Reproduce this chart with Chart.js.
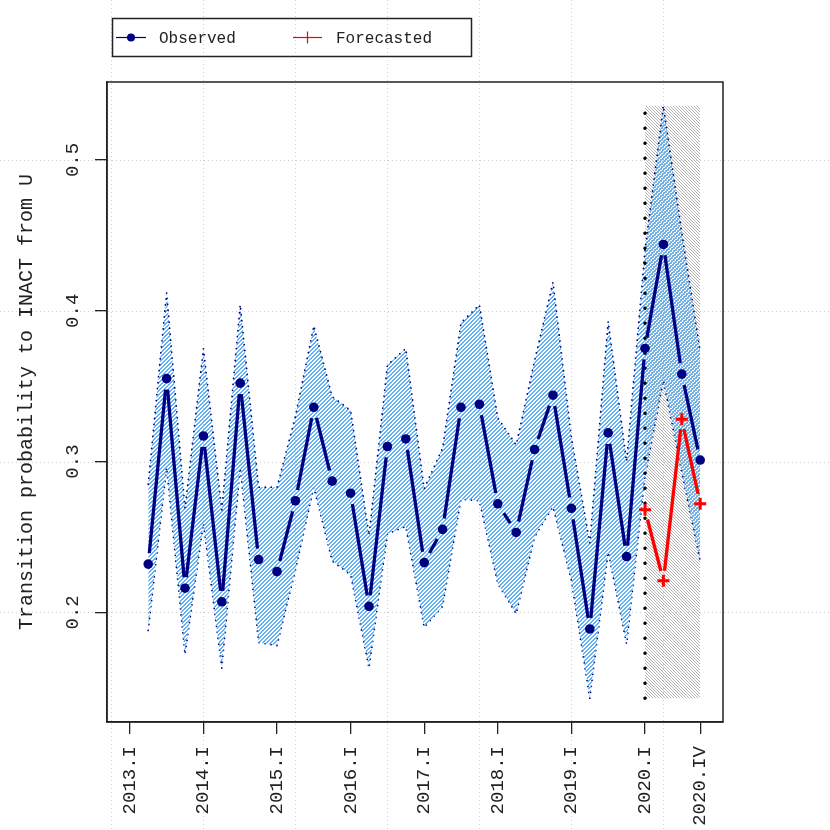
<!DOCTYPE html>
<html>
<head>
<meta charset="utf-8">
<script src="https://cdn.jsdelivr.net/npm/chart.js@4"></script>
<style>
  body { margin: 0; background: #fff; }
  canvas { display: block; }
</style>
</head>
<body>
<canvas id="chart" width="830" height="830"></canvas>
<script>
/* DATA (quarter index: 1 = 2013.I) */
const quarters = [2, 3, 4, 5, 6, 7, 8, 9, 10, 11, 12, 13, 14, 15, 16, 17,
                  18, 19, 20, 21, 22, 23, 24, 25, 26, 27, 28, 29, 30, 31, 32];
const observed = [0.232, 0.355, 0.216, 0.317, 0.207, 0.352, 0.235, 0.227, 0.274, 0.336, 0.287,
                  0.279, 0.204, 0.310, 0.315, 0.233, 0.255, 0.336, 0.338, 0.272, 0.253, 0.308,
                  0.344, 0.269, 0.189, 0.319, 0.237, 0.375, 0.444, 0.358, 0.301];
const upper = [0.285, 0.412, 0.269, 0.375, 0.268, 0.404, 0.283, 0.283, 0.330, 0.390, 0.343,
               0.334, 0.251, 0.364, 0.375, 0.282, 0.309, 0.392, 0.404, 0.329, 0.311, 0.367,
               0.419, 0.316, 0.246, 0.393, 0.300, 0.440, 0.536, 0.452, 0.373];
const lower = [0.188, 0.296, 0.172, 0.259, 0.163, 0.296, 0.180, 0.178, 0.228, 0.283, 0.234,
               0.225, 0.163, 0.252, 0.257, 0.190, 0.204, 0.275, 0.274, 0.219, 0.199, 0.250,
               0.270, 0.221, 0.143, 0.240, 0.179, 0.290, 0.354, 0.293, 0.234];
const fcQuarters = [29, 30, 31, 32];
const forecast = [0.268, 0.221, 0.328, 0.272];

const tickQuarters = [1, 5, 9, 13, 17, 21, 25, 29, 32];
const tickLabels = ["2013.I", "2014.I", "2015.I", "2016.I", "2017.I", "2018.I", "2019.I", "2020.I", "2020.IV"];
const yTicks = [0.2, 0.3, 0.4, 0.5];
const xGrid = [0, 5, 10, 15, 20, 25, 30];

const yTitle = "Transition probability to INACT from U";
const legendNames = ["Observed", "Forecasted"];

/* DERIVED */
const shadeTop = Math.max(...upper);
const shadeBottom = Math.min(...lower);
const yMin = shadeBottom - 0.04 * (shadeTop - shadeBottom);
const yMax = shadeTop + 0.04 * (shadeTop - shadeBottom);
const xMin = 1 - 0.04 * 31;
const xMax = 32 + 0.04 * 31;

const NAVY = "#000080";
const RED = "#ff0000";
const MONO = "'Liberation Mono', 'DejaVu Sans Mono', monospace";

const ctx = document.getElementById("chart").getContext("2d");

/* HATCH PATTERNS (crisp pixel stripes) */
function hatch(color, size, width, slash) {
    let c = document.createElement("canvas");
    c.width = size; c.height = size;
    let g = c.getContext("2d");
    g.fillStyle = color;
    for (let x = 0; x < size; x++) {
        for (let y = 0; y < size; y++) {
            let k = slash ? (x + y) % size : ((x - y) % size + size) % size;
            if (k < width) g.fillRect(x, y, 1, 1);
        }
    }
    return ctx.createPattern(c, "repeat");
}
const bluePattern = hatch("#63b3f2", 4, 2, true);
const grayPattern = hatch("#b4b4b4", 3, 1, false);

const pts = (xs, ys) => xs.map((x, i) => ({ x: x, y: ys[i] }));

/* PLUGINS */
const backGrid = {
    id: "backGrid",
    beforeDraw(chart) {
        let c = chart.ctx, x = chart.scales.x, y = chart.scales.y;
        c.save();
        c.strokeStyle = "#cfcfcf";
        c.lineWidth = 1;
        c.setLineDash([1, 3]);
        xGrid.forEach(v => {
            let px = Math.round(x.getPixelForValue(v)) + 0.5;
            c.beginPath(); c.moveTo(px, 0); c.lineTo(px, chart.height); c.stroke();
        });
        yTicks.forEach(v => {
            let py = Math.round(y.getPixelForValue(v)) + 0.5;
            c.beginPath(); c.moveTo(0, py); c.lineTo(chart.width, py); c.stroke();
        });
        c.restore();
    }
};

const gapLines = {
    id: "gapLines",
    afterDatasetsDraw(chart) {
        let c = chart.ctx;
        chart.data.datasets.forEach((ds, i) => {
            if (!ds.gapLine) return;
            let p = chart.getDatasetMeta(i).data;
            c.save();
            c.strokeStyle = ds.gapLine.color;
            c.lineWidth = ds.gapLine.width;
            for (let k = 0; k < p.length - 1; k++) {
                let dx = p[k + 1].x - p[k].x, dy = p[k + 1].y - p[k].y;
                let len = Math.hypot(dx, dy), g = ds.gapLine.gap;
                if (len <= 2 * g) continue;
                let ux = dx / len, uy = dy / len;
                c.beginPath();
                c.moveTo(p[k].x + ux * g, p[k].y + uy * g);
                c.lineTo(p[k + 1].x - ux * g, p[k + 1].y - uy * g);
                c.stroke();
            }
            c.restore();
        });
    }
};

const frame = {
    id: "frame",
    afterDraw(chart) {
        let c = chart.ctx, a = chart.chartArea, y = chart.scales.y;
        c.save();
        // plot box
        c.strokeStyle = "#222";
        c.lineWidth = 1.5;
        c.strokeRect(a.left, a.top, a.right - a.left, a.bottom - a.top);

        // y tick labels, rotated like R
        c.fillStyle = "#222";
        c.font = "19px " + MONO;
        c.textAlign = "center";
        c.textBaseline = "middle";
        yTicks.forEach(v => {
            c.save();
            c.translate(73, y.getPixelForValue(v));
            c.rotate(-Math.PI / 2);
            c.fillText(v.toFixed(1), 0, 0);
            c.restore();
        });

        // legend
        c.lineWidth = 1.5;
        c.strokeRect(112.5, 18.5, 359, 38);
        let ly = 37.5;
        c.lineWidth = 1.2;
        c.strokeStyle = NAVY;
        c.beginPath(); c.moveTo(116, ly); c.lineTo(146, ly); c.stroke();
        c.fillStyle = NAVY;
        c.beginPath(); c.arc(131, ly, 4, 0, Math.PI * 2); c.fill();
        c.strokeStyle = RED;
        c.beginPath(); c.moveTo(293, ly); c.lineTo(322, ly); c.stroke();
        c.beginPath(); c.moveTo(307.5, ly - 6); c.lineTo(307.5, ly + 6); c.stroke();
        c.fillStyle = "#222";
        c.font = "16px " + MONO;
        c.textAlign = "left";
        c.fillText(legendNames[0], 159, ly + 1);
        c.fillText(legendNames[1], 336, ly + 1);
        c.restore();
    }
};

/* CHART */
let chart = new Chart(ctx, {
    type: "line",
    data: {
        datasets: [
            {
                label: legendNames[1],
                data: pts(fcQuarters, forecast),
                showLine: false,
                pointStyle: "cross",
                pointRadius: 6,
                pointBorderWidth: 3,
                pointBorderColor: RED,
                pointBackgroundColor: RED,
                gapLine: { color: RED, width: 3.3, gap: 10 },
                order: 0
            },
            {
                label: legendNames[0],
                data: pts(quarters, observed),
                showLine: false,
                pointRadius: 4.8,
                pointBorderWidth: 0,
                pointBackgroundColor: NAVY,
                gapLine: { color: NAVY, width: 3.3, gap: 11 },
                order: 1
            },
            {
                label: "start",
                data: [{ x: fcQuarters[0], y: shadeBottom }, { x: fcQuarters[0], y: shadeTop }],
                borderColor: "#000",
                borderWidth: 3.5,
                borderDash: [0, 15],
                borderCapStyle: "round",
                pointRadius: 0,
                order: 2
            },
            {
                label: "upper",
                data: pts(quarters, upper),
                borderColor: NAVY,
                borderWidth: 1.8,
                borderDash: [0, 6],
                borderCapStyle: "round",
                backgroundColor: bluePattern,
                fill: "+1",
                pointRadius: 0,
                order: 3
            },
            {
                label: "lower",
                data: pts(quarters, lower),
                borderColor: NAVY,
                borderWidth: 1.8,
                borderDash: [0, 6],
                borderCapStyle: "round",
                pointRadius: 0,
                order: 3
            },
            {
                label: "shade",
                data: [{ x: fcQuarters[0], y: shadeTop }, { x: fcQuarters[3], y: shadeTop }],
                borderWidth: 0,
                backgroundColor: grayPattern,
                fill: { value: shadeBottom },
                pointRadius: 0,
                order: 5
            }
        ]
    },
    options: {
        responsive: false,
        animation: false,
        devicePixelRatio: 1,
        layout: { padding: { top: 82, right: 107, left: 0, bottom: 0 } },
        plugins: {
            legend: { display: false },
            tooltip: { enabled: false }
        },
        scales: {
            x: {
                type: "linear",
                min: xMin,
                max: xMax,
                afterBuildTicks: s => { s.ticks = tickQuarters.map(v => ({ value: v })); },
                afterFit: s => { s.height = 108; },
                ticks: {
                    autoSkip: false,
                    minRotation: 90,
                    maxRotation: 90,
                    padding: 12,
                    color: "#222",
                    font: { family: MONO, size: 19 },
                    callback: v => tickLabels[tickQuarters.indexOf(v)]
                },
                grid: { drawOnChartArea: false, tickLength: 12, color: "#222", lineWidth: 1.3 },
                border: { color: "#222", width: 1.5 }
            },
            y: {
                min: yMin,
                max: yMax,
                afterBuildTicks: s => { s.ticks = yTicks.map(v => ({ value: v })); },
                afterFit: s => { s.width = 107; },
                ticks: { display: false },
                title: {
                    display: true,
                    text: yTitle,
                    color: "#222",
                    font: { family: MONO, size: 20 },
                    padding: { top: 15, bottom: 0 }
                },
                grid: { drawOnChartArea: false, tickLength: 12, color: "#222", lineWidth: 1.3 },
                border: { color: "#222", width: 1.5 }
            }
        }
    },
    plugins: [backGrid, gapLines, frame]
});
</script>
</body>
</html>
